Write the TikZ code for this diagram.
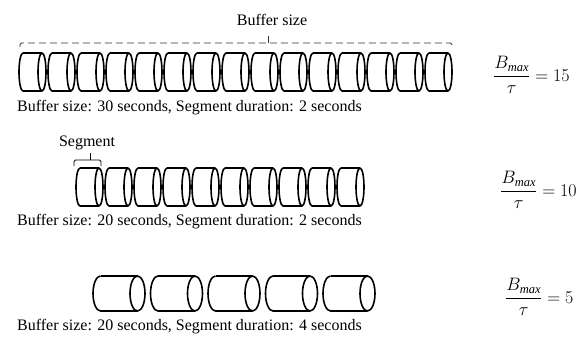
\RequirePackage{fix-cm}
\documentclass[tikz,border=0pt]{standalone}
\usepackage{amsmath}
\usepackage{fontspec}
\setmainfont{Liberation Serif}

% italic subscript set in the text face at a fixed size
\newcommand{\subtxt}[1]{\text{\fontsize{12.5}{12.5}\selectfont\itshape #1}}

% one horizontal segment: left half-ellipse, body, full right ellipse
% #1 = x of left end centre, #2 = y of axis, #3 = body length, #4 = x radius, #5 = y radius
\newcommand{\segcyl}[5]{%
  \draw[cylline] (#1,#2-#5) arc[start angle=270,end angle=90,x radius=#4,y radius=#5] -- ++(#3,0);
  \draw[cylline] (#1,#2-#5) -- ++(#3,0);
  \draw[cylline] (#1+#3,#2) ellipse[x radius=#4,y radius=#5];
}

\begin{document}
\begin{tikzpicture}[x=1pt,y=-1pt,
  cylline/.style={line width=1.6pt,line join=round},
  caption/.style={anchor=west,inner sep=0pt,font=\fontsize{16}{19}\selectfont},
  ratio/.style={anchor=west,inner sep=0pt,font=\fontsize{18}{22}\selectfont},
  bufbrace/.style={line width=0.8pt,dash pattern=on 7pt off 4pt,black!80,rounded corners=1.5pt},
  segbrace/.style={line width=0.8pt,rounded corners=1.5pt}]
  \useasboundingbox (0,0) rectangle (587,345);

  % row 1: 15 segments of 2 s
  \foreach \i in {0,...,14} { \segcyl{23+29*\i}{72}{19}{4}{19} }
  \coordinate (b1l) at (20,47);
  \coordinate (b1r) at (452,47);
  \coordinate (b1m) at (268,43);
  \coordinate (b1t) at (268,36);
  \draw[bufbrace] (b1l) |- (b1m) -| (b1r);
  \draw[bufbrace,solid] (b1m) -- (b1t);
  \node[inner sep=0pt,font=\fontsize{16}{19}\selectfont] (buflabel) at (272,20) {Buffer size};
  \node[caption] (cap1) at (17,108) {Buffer size: 30 seconds, Segment duration: 2 seconds};
  \node[ratio] (r1) at (493,75) {$\dfrac{B_{\subtxt{max}}}{\tau} = 15$};

  % row 2: 10 segments of 2 s
  \foreach \i in {0,...,9} { \segcyl{80+29*\i}{187}{19}{4}{19} }
  \coordinate (b2l) at (74,166);
  \coordinate (b2r) at (101,166);
  \coordinate (b2m) at (90.5,160);
  \coordinate (b2t) at (90.5,153);
  \draw[segbrace] (b2l) |- (b2m) -| (b2r);
  \draw[segbrace] (b2m) -- (b2t);
  \node[inner sep=0pt,font=\fontsize{16}{19}\selectfont] (seglabel) at (87,143) {Segment};
  \node[caption] (cap2) at (17,222) {Buffer size: 20 seconds, Segment duration: 2 seconds};
  \node[ratio] (r2) at (500,190) {$\dfrac{B_{\subtxt{max}}}{\tau} = 10$};

  % row 3: 5 segments of 4 s
  \foreach \i in {0,...,4} { \segcyl{100.5+57.5*\i}{293.5}{37}{7.5}{17.5} }
  \node[caption] (cap3) at (17,327) {Buffer size: 20 seconds, Segment duration: 4 seconds};
  \node[ratio] (r3) at (505,297) {$\dfrac{B_{\subtxt{max}}}{\tau} = 5$};
\end{tikzpicture}
\end{document}
